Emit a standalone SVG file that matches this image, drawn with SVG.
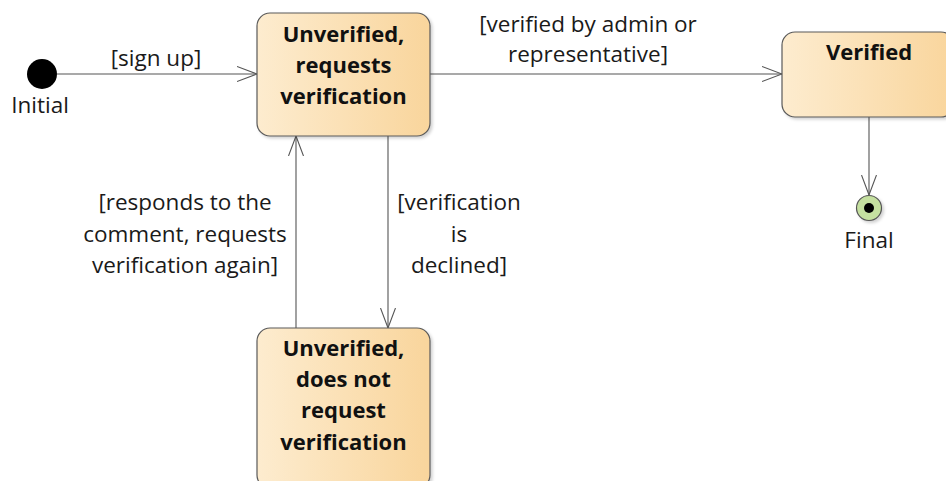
<svg xmlns="http://www.w3.org/2000/svg" width="946" height="481" viewBox="0 0 946 481">
<style>
.state{stroke:#5a5a5a;stroke-width:1.2;fill:url(#grad)}
.t{font-family:"Open Sans","Liberation Sans",sans-serif;font-size:22.5px;fill:#1a1a1a;text-anchor:middle}
.b{font-family:"Open Sans","Liberation Sans",sans-serif;font-size:22px;font-weight:bold;fill:#111;text-anchor:middle}
.edge{stroke:#555;stroke-width:1.1;fill:none}
</style>
<defs>
<linearGradient id="grad" x1="0" y1="0" x2="1" y2="0">
<stop offset="0" stop-color="#fdeccf"/>
<stop offset="1" stop-color="#f9d59c"/>
</linearGradient>
<filter id="sh" x="-10%" y="-10%" width="130%" height="130%">
<feDropShadow dx="2" dy="2" stdDeviation="1.5" flood-color="#000" flood-opacity="0.18"/>
</filter>
<marker id="arr" viewBox="0 0 20 16" refX="20" refY="8" markerWidth="20" markerHeight="16" markerUnits="userSpaceOnUse" orient="auto">
<path d="M0,0.5 L20,8 L0,15.5" fill="none" stroke="#555" stroke-width="1.1"/>
</marker>
</defs>
<g id="connectors">
<line class="edge" x1="57" y1="74" x2="257" y2="74" marker-end="url(#arr)"/>
<line class="edge" x1="430" y1="74" x2="782" y2="74" marker-end="url(#arr)"/>
<line class="edge" x1="388" y1="136" x2="388" y2="328" marker-end="url(#arr)"/>
<line class="edge" x1="296" y1="328" x2="296" y2="136" marker-end="url(#arr)"/>
<line class="edge" x1="869" y1="117" x2="869" y2="195" marker-end="url(#arr)"/>
<text class="t" x="156" y="66">[sign up]</text>
<text class="t" x="588" y="32">[verified by admin or</text>
<text class="t" x="588" y="62">representative]</text>
<text class="t" x="185" y="210">[responds to the</text>
<text class="t" x="185" y="242">comment, requests</text>
<text class="t" x="185" y="273">verification again]</text>
<text class="t" x="459" y="210">[verification</text>
<text class="t" x="459" y="242">is</text>
<text class="t" x="459" y="273">declined]</text>
</g>
<g id="initial">
<circle cx="42" cy="74" r="15" fill="#000"/>
<text class="t" x="40" y="113">Initial</text>
</g>
<g id="unverified-requests">
<rect class="state" x="257" y="13" width="173" height="123" rx="13" filter="url(#sh)"/>
<text class="b" x="343.5" y="42">Unverified,</text>
<text class="b" x="343.5" y="73">requests</text>
<text class="b" x="343.5" y="104">verification</text>
</g>
<g id="verified">
<rect class="state" x="782" y="32" width="172" height="85" rx="13" filter="url(#sh)"/>
<text class="b" x="869" y="60">Verified</text>
</g>
<g id="final">
<circle cx="869" cy="208" r="12.5" fill="#c5e0a0" stroke="#555" stroke-width="1.2" filter="url(#sh)"/>
<circle cx="869" cy="208" r="5" fill="#000"/>
<text class="t" x="869" y="248">Final</text>
</g>
<g id="unverified-not-requesting">
<rect class="state" x="257" y="328" width="173" height="160" rx="13" filter="url(#sh)"/>
<text class="b" x="343.5" y="356">Unverified,</text>
<text class="b" x="343.5" y="387">does not</text>
<text class="b" x="343.5" y="418">request</text>
<text class="b" x="343.5" y="450">verification</text>
</g>
</svg>
